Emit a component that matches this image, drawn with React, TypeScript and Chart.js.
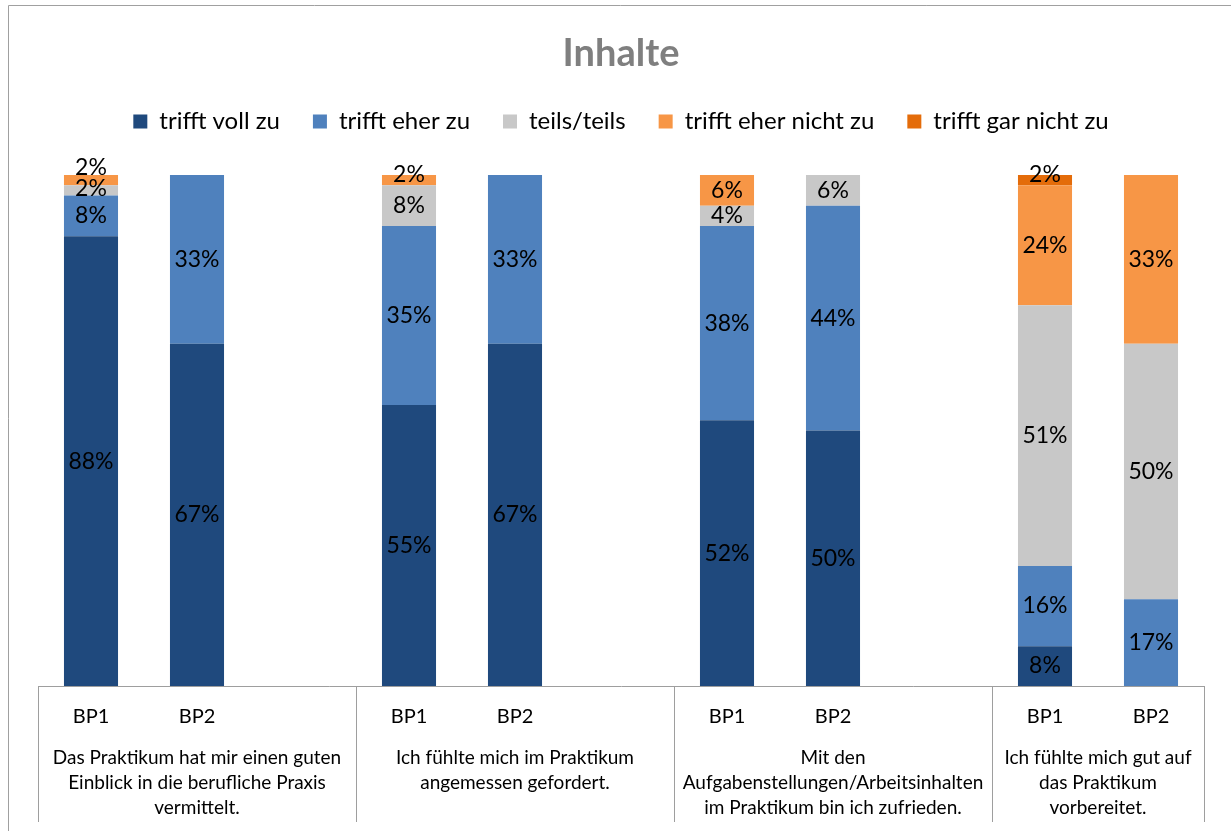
import React, { useEffect, useRef } from 'react';
import { Chart, registerables } from 'chart.js';

Chart.register(...registerables);

const chartTitle = 'Inhalte';
const seriesNames = ['trifft voll zu', 'trifft eher zu', 'teils/teils', 'trifft eher nicht zu', 'trifft gar nicht zu'];
const seriesColors = ['#1F497D', '#4F81BD', '#C8C8C8', '#F79646', '#E46C0A'];
const barLabels = ['BP1', 'BP2'];
const questions = [
  ['Das Praktikum hat mir einen guten', 'Einblick in die berufliche Praxis', 'vermittelt.'],
  ['Ich fühlte mich im Praktikum', 'angemessen gefordert.'],
  ['Mit den', 'Aufgabenstellungen/Arbeitsinhalten', 'im Praktikum bin ich zufrieden.'],
  ['Ich fühlte mich gut auf', 'das Praktikum', 'vorbereitet.'],
];
// order: Q1 BP1, Q1 BP2, Q2 BP1, Q2 BP2, Q3 BP1, Q3 BP2, Q4 BP1, Q4 BP2
const trifftVollZu = [88, 67, 55, 67, 52, 50, 7.8, 0];
const trifftEherZu = [8, 33, 35, 33, 38, 44, 15.7, 17];
const teilsTeils = [2, 0, 8, 0, 4, 6, 51, 50];
const trifftEherNichtZu = [2, 0, 2, 0, 6, 0, 23.5, 33];
const trifftGarNichtZu = [0, 0, 0, 0, 0, 0, 2, 0];

const seriesValues = [trifftVollZu, trifftEherZu, teilsTeils, trifftEherNichtZu, trifftGarNichtZu];

// expand to category slots with an empty slot between question groups
const categoryLabels: string[] = [];
const slotIndex: number[] = [];
questions.forEach((_, g) => {
  barLabels.forEach((b) => {
    slotIndex.push(categoryLabels.length);
    categoryLabels.push(b);
  });
  if (g < questions.length - 1) categoryLabels.push('');
});

const buildData = (values: number[]) => {
  const arr: (number | null)[] = categoryLabels.map(() => null);
  values.forEach((v, i) => {
    arr[slotIndex[i]] = v;
  });
  return arr;
};

const FONT = 'Lato, "Open Sans", sans-serif';
const AXIS_GRAY = '#9e9e9e';

const dataLabelPlugin = {
  id: 'dataLabels',
  afterDatasetsDraw(chart: any) {
    const ctx = chart.ctx;
    ctx.save();
    ctx.font = `23px ${FONT}`;
    ctx.fillStyle = '#000';
    ctx.textAlign = 'center';
    ctx.textBaseline = 'middle';
    const n = chart.data.labels.length;
    const nds = chart.data.datasets.length;
    for (let i = 0; i < n; i++) {
      let prevY = Infinity;
      let lastIdx = -1;
      for (let di = 0; di < nds; di++) {
        const v = chart.data.datasets[di].data[i];
        if (v != null && v !== 0) lastIdx = di;
      }
      chart.data.datasets.forEach((ds: any, di: number) => {
        const v = ds.data[i];
        if (v == null || v === 0) return;
        const el = chart.getDatasetMeta(di).data[i];
        let y = (el.y + el.base) / 2;
        if (v < 3) y -= di === lastIdx ? 6 : 2;
        if (y > prevY - 21) y = prevY - 21;
        ctx.fillText(Math.round(v) + '%', el.x, y);
        prevY = y;
      });
    }
    ctx.restore();
  },
};

const groupAxisPlugin = {
  id: 'groupAxis',
  afterDraw(chart: any) {
    const ctx = chart.ctx;
    const xs = chart.scales.x;
    const bottom = chart.chartArea.bottom;
    ctx.save();
    // outer chart border (left and top)
    ctx.strokeStyle = '#a0a0a0';
    ctx.lineWidth = 1;
    ctx.beginPath();
    ctx.moveTo(8.5, chart.height + 5);
    ctx.lineTo(8.5, 5.5);
    ctx.lineTo(chart.width + 5, 5.5);
    ctx.stroke();

    // group separators
    const bounds: number[] = [-0.5];
    let idx = 0;
    questions.forEach((_, g) => {
      idx += barLabels.length + (g < questions.length - 1 ? 1 : 0);
      bounds.push(idx - 0.5);
    });
    ctx.strokeStyle = AXIS_GRAY;
    bounds.forEach((b) => {
      const x = Math.round(xs.getPixelForValue(b)) + 0.5;
      ctx.beginPath();
      ctx.moveTo(x, bottom);
      ctx.lineTo(x, bottom + 136);
      ctx.stroke();
    });

    // group labels
    ctx.font = `19px ${FONT}`;
    ctx.fillStyle = '#000';
    ctx.textAlign = 'center';
    ctx.textBaseline = 'middle';
    questions.forEach((lines, g) => {
      const x0 = xs.getPixelForValue(bounds[g]);
      const x1 = xs.getPixelForValue(bounds[g + 1]);
      const cx = (x0 + x1) / 2;
      lines.forEach((line, li) => {
        ctx.fillText(line, cx, bottom + 72 + li * 25);
      });
    });
    ctx.restore();
  },
};

export default function App() {
  const canvasRef = useRef<HTMLCanvasElement | null>(null);

  useEffect(() => {
    if (!canvasRef.current) return;
    const chart = new Chart(canvasRef.current, {
      type: 'bar',
      data: {
        labels: categoryLabels,
        datasets: seriesNames.map((name, si) => ({
          label: name,
          data: buildData(seriesValues[si]),
          backgroundColor: seriesColors[si],
          borderWidth: 0,
          categoryPercentage: 1,
          barPercentage: 0.51,
          xAxisID: 'x',
          yAxisID: 'y',
        })),
      },
      options: {
        animation: false,
        responsive: true,
        maintainAspectRatio: false,
        layout: { padding: { left: 38, right: 27, top: 0, bottom: 0 } },
        plugins: {
          title: {
            display: true,
            text: chartTitle,
            color: '#7f7f7f',
            font: { family: FONT, size: 38, weight: 'bold' },
            padding: { top: 31, bottom: 0 },
          },
          legend: {
            display: true,
            position: 'top',
            labels: {
              color: '#000',
              font: { family: FONT, size: 24 },
              boxWidth: 14,
              boxHeight: 14,
              padding: 33,
            },
          },
          tooltip: { enabled: false },
        },
        scales: {
          x: {
            type: 'category',
            position: 'bottom',
            stacked: true,
            grid: { display: false },
            border: { display: true, color: AXIS_GRAY, width: 1 },
            ticks: {
              color: '#000',
              font: { family: FONT, size: 20 },
              padding: 11,
              maxRotation: 0,
              autoSkip: false,
            },
            afterFit: (scale: any) => {
              scale.height = 145;
            },
          },
          xTop: {
            type: 'category',
            position: 'top',
            display: true,
            grid: { display: false },
            border: { display: false },
            ticks: { display: false },
            afterFit: (scale: any) => {
              scale.height = 31.4;
            },
          },
          y: {
            stacked: true,
            display: false,
            min: 0,
            max: 100,
          },
        },
      },
      plugins: [dataLabelPlugin, groupAxisPlugin],
    });
    return () => chart.destroy();
  }, []);

  return (
    <div
      style={{
        position: 'fixed',
        left: 0,
        top: 0,
        width: '1231px',
        height: '831px',
        background: '#fff',
        overflow: 'hidden',
      }}
    >
      <canvas ref={canvasRef} />
    </div>
  );
}
